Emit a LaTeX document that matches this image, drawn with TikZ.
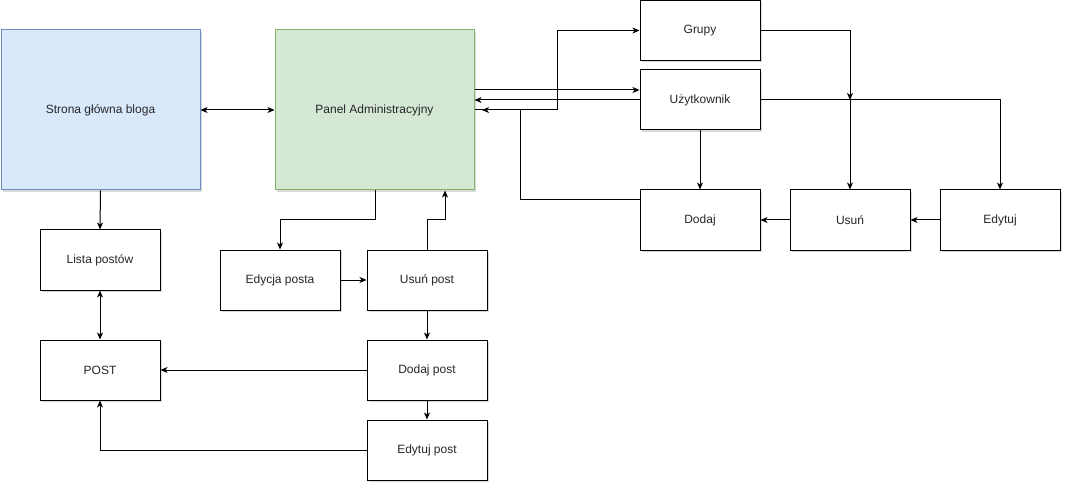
\documentclass[tikz,border=0pt]{standalone}
\usepackage{fontspec}
\setmainfont{Liberation Sans}
\usetikzlibrary{arrows.meta,shadows,calc}
\definecolor{bluefill}{HTML}{DAE8FC}
\definecolor{blueline}{HTML}{6C8EBF}
\definecolor{greenfill}{HTML}{D5E8D4}
\definecolor{greenline}{HTML}{82B366}
\begin{document}
\begin{tikzpicture}[x=1pt,y=-1pt,
  box/.style={draw, line width=1pt, minimum width=120pt, minimum height=60pt, inner sep=0pt, fill=white,
    font=\fontsize{12}{14}\selectfont, text=black!85,
    drop shadow={shadow xshift=2pt, shadow yshift=-2pt, opacity=0.15, fill=black}},
  big/.style={box, minimum width=199pt, minimum height=160pt},
  arr/.style={-{Stealth[length=7pt,width=6pt,inset=2pt]}, line width=1pt},
  arrb/.style={{Stealth[length=7pt,width=6pt,inset=2pt]}-{Stealth[length=7pt,width=6pt,inset=2pt]}, line width=1pt}]
\useasboundingbox (0,0) rectangle (1072,492);
% nodes
\node[big, fill=bluefill, draw=blueline] (strona) at (100.5,110) {Strona główna bloga};
\node[big, fill=greenfill, draw=greenline] (panel) at (374.5,110) {Panel Administracyjny};
\node[box] (grupy) at (700,30.5) {Grupy};
\node[box] (uzyt) at (700,100) {Użytkownik};
\node[box] (dodaj) at (700,220) {Dodaj};
\node[box] (usun) at (850,220) {Usuń};
\node[box] (edytuj) at (1000,220) {Edytuj};
\node[box] (lista) at (100,260) {Lista postów};
\node[box] (edycja) at (280,280) {Edycja posta};
\node[box] (usunpost) at (427,280) {Usuń post};
\node[box] (post) at (100,370) {POST};
\node[box] (dodajpost) at (427,370) {Dodaj post};
\node[box] (edytujpost) at (427,450) {Edytuj post};
% helper coordinates
\coordinate (u90) at ($(uzyt.west)+(0,-10)$);
\coordinate (d200) at ($(dodaj.west)+(0,-20)$);
\coordinate (p110) at (482,110);
\coordinate (j1) at (557,110);
\coordinate (j2) at (520,110);
\coordinate (m850) at (850,100);
\coordinate (e1) at (375,220);
\coordinate (e2) at (445,220);
% connectors
\draw[arrb] (strona.east) -- (panel.west);
\draw[arr] (panel.east |- u90) -- (u90);
\draw[arr] (uzyt.west) -- (panel.east |- uzyt.west);
\draw[line width=1pt] (panel.east) -- (j1);
\draw[arr] (j1) |- (grupy.west);
\draw[arr] (d200) -| (j2) -- (p110);
\draw[arr] (grupy.east) -| (m850);
\draw[arr] (m850) -- (usun.north);
\draw[arr] (uzyt.east) -| (edytuj.north);
\draw[arr] (uzyt.south) -- (dodaj.north);
\draw[arr] (usun.west) -- (dodaj.east);
\draw[arr] (edytuj.west) -- (usun.east);
\draw[arr] (panel.south -| e1) -- (e1) -| (edycja.north);
\draw[arr] (edycja.east) -- (usunpost.west);
\draw[arr] (usunpost.north) |- (e2) -- (panel.south -| e2);
\draw[arr] (usunpost.south) -- (dodajpost.north);
\draw[arr] (dodajpost.west) -- (post.east);
\draw[arr] (dodajpost.south) -- (edytujpost.north);
\draw[arr] (edytujpost.west) -| (post.south);
\draw[arr] (strona.south) -- (lista.north);
\draw[arrb] (lista.south) -- (post.north);
\end{tikzpicture}
\end{document}
